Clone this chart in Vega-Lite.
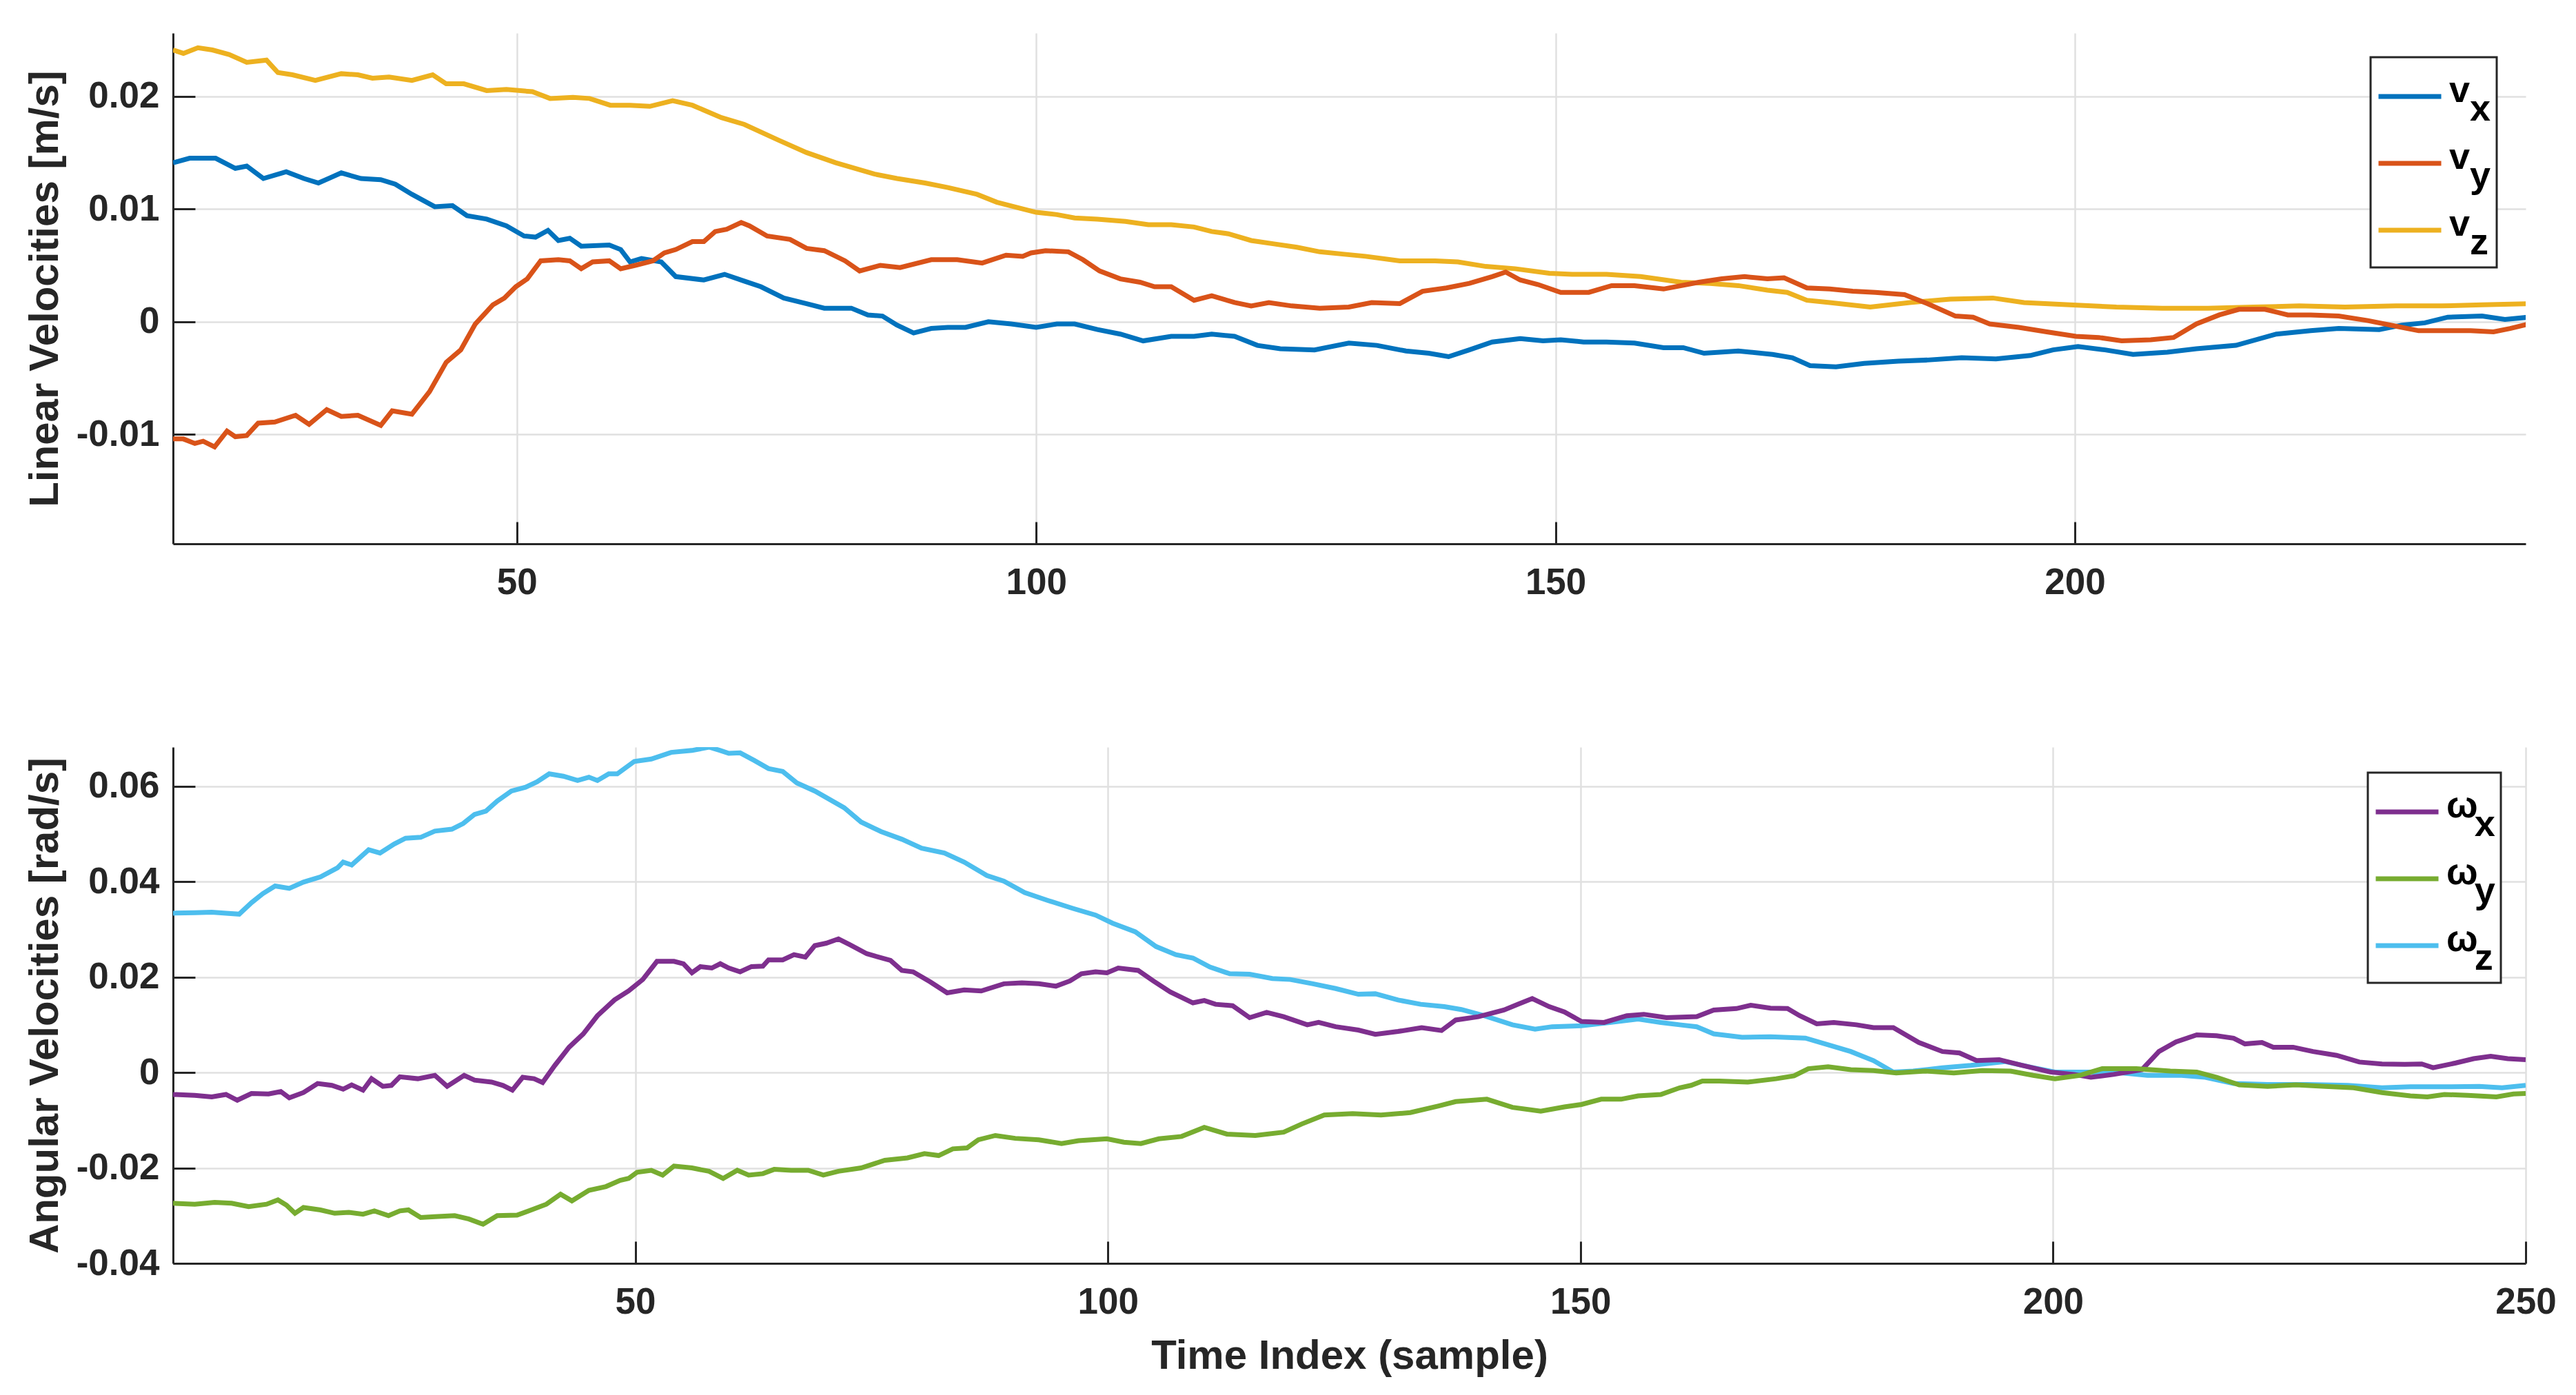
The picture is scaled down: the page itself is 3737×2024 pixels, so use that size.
{
  "$schema": "https://vega.github.io/schema/vega-lite/v6.json",
  "background": "white",
  "padding": {"left": 35, "top": 48, "right": 20, "bottom": 10},
  "spacing": 212,
  "config": {
    "font": "Liberation Sans",
    "view": {"stroke": null},
    "axis": {
      "labelFont": "Liberation Sans", "labelFontSize": 53, "labelFontWeight": "bold", "labelColor": "#262626",
      "titleFont": "Liberation Sans", "titleFontSize": 60, "titleFontWeight": "bold", "titleColor": "#262626",
      "domainColor": "#262626", "domainWidth": 3, "tickColor": "#262626", "tickWidth": 3, "tickSize": -32,
      "gridColor": "#e0e0e0", "gridWidth": 2.5, "labelFlush": false, "labelOverlap": false
    },
    "axisX": {"labelPadding": 62, "titlePadding": 22},
    "axisY": {"labelPadding": 52, "titlePadding": 14},
    "legend": {
      "orient": "none", "title": null, "symbolType": "stroke", "symbolSize": 8281, "symbolStrokeWidth": 7,
      "rowPadding": 2, "padding": 8, "labelOffset": 8, "labelFont": "Liberation Sans", "labelFontSize": 54,
      "labelFontWeight": "bold", "labelColor": "black", "strokeColor": "#262626", "fillColor": "white",
      "labelBaseline": "alphabetic"
    }
  },
  "datasets": {
    "lin": [
      {"t":16.9,"s":"vz","v":0.0241},{"t":17.9,"s":"vz","v":0.0238},{"t":19.3,"s":"vz","v":0.0243},{"t":20.7,"s":"vz","v":0.0241},{"t":22.3,"s":"vz","v":0.0237},{"t":24.0,"s":"vz","v":0.0230},{"t":25.9,"s":"vz","v":0.0232},{"t":27.0,"s":"vz","v":0.0221},{"t":28.4,"s":"vz","v":0.0219},{"t":30.6,"s":"vz","v":0.0214},{"t":33.1,"s":"vz","v":0.0220},{"t":34.7,"s":"vz","v":0.0219},{"t":36.1,"s":"vz","v":0.0216},{"t":37.7,"s":"vz","v":0.0217},{"t":39.9,"s":"vz","v":0.0214},{"t":41.9,"s":"vz","v":0.0219},{"t":43.2,"s":"vz","v":0.0211},{"t":44.9,"s":"vz","v":0.0211},{"t":47.1,"s":"vz","v":0.0205},{"t":49.0,"s":"vz","v":0.0206},{"t":51.5,"s":"vz","v":0.0204},{"t":53.2,"s":"vz","v":0.0198},{"t":55.4,"s":"vz","v":0.0199},{"t":57.0,"s":"vz","v":0.0198},{"t":59.0,"s":"vz","v":0.0192},{"t":60.9,"s":"vz","v":0.0192},{"t":62.8,"s":"vz","v":0.0191},{"t":65.0,"s":"vz","v":0.0196},{"t":66.9,"s":"vz","v":0.0192},{"t":69.7,"s":"vz","v":0.0181},{"t":71.9,"s":"vz","v":0.0175},{"t":75.2,"s":"vz","v":0.0161},{"t":77.9,"s":"vz","v":0.0150},{"t":80.7,"s":"vz","v":0.0141},{"t":84.4,"s":"vz","v":0.0131},{"t":86.6,"s":"vz","v":0.0127},{"t":89.3,"s":"vz","v":0.0123},{"t":91.5,"s":"vz","v":0.0119},{"t":94.3,"s":"vz","v":0.0113},{"t":96.2,"s":"vz","v":0.0106},{"t":98.7,"s":"vz","v":0.0100},{"t":100.0,"s":"vz","v":0.0097},{"t":102.0,"s":"vz","v":0.0095},{"t":103.7,"s":"vz","v":0.0092},{"t":105.9,"s":"vz","v":0.0091},{"t":108.6,"s":"vz","v":0.0089},{"t":110.8,"s":"vz","v":0.0086},{"t":113.0,"s":"vz","v":0.0086},{"t":115.2,"s":"vz","v":0.0084},{"t":116.9,"s":"vz","v":0.0080},{"t":118.5,"s":"vz","v":0.0078},{"t":120.7,"s":"vz","v":0.0072},{"t":122.9,"s":"vz","v":0.0069},{"t":125.1,"s":"vz","v":0.0066},{"t":127.3,"s":"vz","v":0.0062},{"t":129.5,"s":"vz","v":0.0060},{"t":131.7,"s":"vz","v":0.0058},{"t":135.0,"s":"vz","v":0.0054},{"t":138.4,"s":"vz","v":0.0054},{"t":140.6,"s":"vz","v":0.0053},{"t":143.3,"s":"vz","v":0.0049},{"t":146.1,"s":"vz","v":0.0047},{"t":149.4,"s":"vz","v":0.0043},{"t":151.6,"s":"vz","v":0.0042},{"t":154.9,"s":"vz","v":0.0042},{"t":158.2,"s":"vz","v":0.0040},{"t":162.1,"s":"vz","v":0.0035},{"t":164.9,"s":"vz","v":0.0034},{"t":167.6,"s":"vz","v":0.0032},{"t":170.4,"s":"vz","v":0.0028},{"t":172.3,"s":"vz","v":0.0026},{"t":174.2,"s":"vz","v":0.0019},{"t":176.4,"s":"vz","v":0.0017},{"t":180.3,"s":"vz","v":0.0013},{"t":184.1,"s":"vz","v":0.0017},{"t":188.0,"s":"vz","v":0.0020},{"t":192.1,"s":"vz","v":0.0021},{"t":195.1,"s":"vz","v":0.0017},{"t":199.5,"s":"vz","v":0.0015},{"t":204.0,"s":"vz","v":0.0013},{"t":208.4,"s":"vz","v":0.0012},{"t":212.8,"s":"vz","v":0.0012},{"t":217.2,"s":"vz","v":0.0013},{"t":221.6,"s":"vz","v":0.0014},{"t":226.0,"s":"vz","v":0.0013},{"t":230.9,"s":"vz","v":0.0014},{"t":235.3,"s":"vz","v":0.0014},{"t":239.2,"s":"vz","v":0.0015},{"t":243.7,"s":"vz","v":0.0016},
      {"t":16.9,"s":"vx","v":0.0141},{"t":18.5,"s":"vx","v":0.0145},{"t":21.0,"s":"vx","v":0.0145},{"t":22.9,"s":"vx","v":0.0136},{"t":24.0,"s":"vx","v":0.0138},{"t":25.6,"s":"vx","v":0.0127},{"t":27.8,"s":"vx","v":0.0133},{"t":29.5,"s":"vx","v":0.0127},{"t":30.9,"s":"vx","v":0.0123},{"t":33.1,"s":"vx","v":0.0132},{"t":35.0,"s":"vx","v":0.0127},{"t":36.9,"s":"vx","v":0.0126},{"t":38.3,"s":"vx","v":0.0122},{"t":39.9,"s":"vx","v":0.0113},{"t":42.1,"s":"vx","v":0.0102},{"t":43.8,"s":"vx","v":0.0103},{"t":45.2,"s":"vx","v":0.0094},{"t":47.1,"s":"vx","v":0.0091},{"t":49.0,"s":"vx","v":0.0085},{"t":50.7,"s":"vx","v":0.0076},{"t":51.8,"s":"vx","v":0.0075},{"t":53.0,"s":"vx","v":0.0081},{"t":54.0,"s":"vx","v":0.0072},{"t":55.1,"s":"vx","v":0.0074},{"t":56.2,"s":"vx","v":0.0067},{"t":58.9,"s":"vx","v":0.0068},{"t":60.0,"s":"vx","v":0.0064},{"t":60.9,"s":"vx","v":0.0053},{"t":62.0,"s":"vx","v":0.0056},{"t":63.9,"s":"vx","v":0.0053},{"t":65.3,"s":"vx","v":0.0040},{"t":68.0,"s":"vx","v":0.0037},{"t":70.0,"s":"vx","v":0.0042},{"t":71.9,"s":"vx","v":0.0036},{"t":73.5,"s":"vx","v":0.0031},{"t":75.7,"s":"vx","v":0.0021},{"t":77.9,"s":"vx","v":0.0016},{"t":79.6,"s":"vx","v":0.0012},{"t":82.2,"s":"vx","v":0.0012},{"t":83.8,"s":"vx","v":0.0006},{"t":85.2,"s":"vx","v":0.0005},{"t":86.6,"s":"vx","v":-0.0003},{"t":88.2,"s":"vx","v":-0.0010},{"t":89.9,"s":"vx","v":-0.0006},{"t":91.5,"s":"vx","v":-0.0005},{"t":93.2,"s":"vx","v":-0.0005},{"t":95.4,"s":"vx","v":0.0000},{"t":97.6,"s":"vx","v":-0.0002},{"t":100.0,"s":"vx","v":-0.0005},{"t":102.0,"s":"vx","v":-0.0002},{"t":103.7,"s":"vx","v":-0.0002},{"t":105.9,"s":"vx","v":-0.0007},{"t":108.1,"s":"vx","v":-0.0011},{"t":110.3,"s":"vx","v":-0.0017},{"t":113.0,"s":"vx","v":-0.0013},{"t":115.2,"s":"vx","v":-0.0013},{"t":116.9,"s":"vx","v":-0.0011},{"t":119.1,"s":"vx","v":-0.0013},{"t":121.3,"s":"vx","v":-0.0021},{"t":123.5,"s":"vx","v":-0.0024},{"t":126.8,"s":"vx","v":-0.0025},{"t":130.1,"s":"vx","v":-0.0019},{"t":132.8,"s":"vx","v":-0.0021},{"t":135.6,"s":"vx","v":-0.0026},{"t":137.8,"s":"vx","v":-0.0028},{"t":139.7,"s":"vx","v":-0.0031},{"t":141.7,"s":"vx","v":-0.0025},{"t":143.9,"s":"vx","v":-0.0018},{"t":146.6,"s":"vx","v":-0.0015},{"t":148.8,"s":"vx","v":-0.0017},{"t":150.5,"s":"vx","v":-0.0016},{"t":152.7,"s":"vx","v":-0.0018},{"t":154.9,"s":"vx","v":-0.0018},{"t":157.6,"s":"vx","v":-0.0019},{"t":160.4,"s":"vx","v":-0.0023},{"t":162.3,"s":"vx","v":-0.0023},{"t":164.3,"s":"vx","v":-0.0028},{"t":167.6,"s":"vx","v":-0.0026},{"t":170.9,"s":"vx","v":-0.0029},{"t":172.8,"s":"vx","v":-0.0032},{"t":174.5,"s":"vx","v":-0.0039},{"t":177.0,"s":"vx","v":-0.0040},{"t":179.7,"s":"vx","v":-0.0037},{"t":183.0,"s":"vx","v":-0.0035},{"t":185.8,"s":"vx","v":-0.0034},{"t":189.1,"s":"vx","v":-0.0032},{"t":192.4,"s":"vx","v":-0.0033},{"t":195.7,"s":"vx","v":-0.0030},{"t":197.9,"s":"vx","v":-0.0025},{"t":200.3,"s":"vx","v":-0.0022},{"t":202.9,"s":"vx","v":-0.0025},{"t":205.6,"s":"vx","v":-0.0029},{"t":208.9,"s":"vx","v":-0.0027},{"t":211.7,"s":"vx","v":-0.0024},{"t":215.5,"s":"vx","v":-0.0021},{"t":219.4,"s":"vx","v":-0.0011},{"t":222.7,"s":"vx","v":-0.0008},{"t":225.4,"s":"vx","v":-0.0006},{"t":229.3,"s":"vx","v":-0.0007},{"t":231.5,"s":"vx","v":-0.0003},{"t":233.7,"s":"vx","v":-0.0001},{"t":235.9,"s":"vx","v":0.0004},{"t":239.2,"s":"vx","v":0.0005},{"t":241.4,"s":"vx","v":0.0002},{"t":243.7,"s":"vx","v":0.0004},
      {"t":16.9,"s":"vy","v":-0.0104},{"t":17.9,"s":"vy","v":-0.0104},{"t":19.0,"s":"vy","v":-0.0108},{"t":19.8,"s":"vy","v":-0.0106},{"t":20.9,"s":"vy","v":-0.0111},{"t":22.1,"s":"vy","v":-0.0097},{"t":22.9,"s":"vy","v":-0.0102},{"t":24.0,"s":"vy","v":-0.0101},{"t":25.1,"s":"vy","v":-0.0090},{"t":26.7,"s":"vy","v":-0.0089},{"t":28.7,"s":"vy","v":-0.0083},{"t":30.0,"s":"vy","v":-0.0091},{"t":31.7,"s":"vy","v":-0.0078},{"t":33.1,"s":"vy","v":-0.0084},{"t":34.7,"s":"vy","v":-0.0083},{"t":36.9,"s":"vy","v":-0.0092},{"t":38.0,"s":"vy","v":-0.0079},{"t":39.9,"s":"vy","v":-0.0082},{"t":41.6,"s":"vy","v":-0.0062},{"t":43.2,"s":"vy","v":-0.0036},{"t":44.6,"s":"vy","v":-0.0025},{"t":46.0,"s":"vy","v":-0.0002},{"t":47.7,"s":"vy","v":0.0015},{"t":48.8,"s":"vy","v":0.0021},{"t":49.9,"s":"vy","v":0.0031},{"t":51.0,"s":"vy","v":0.0038},{"t":52.3,"s":"vy","v":0.0054},{"t":54.0,"s":"vy","v":0.0055},{"t":55.1,"s":"vy","v":0.0054},{"t":56.2,"s":"vy","v":0.0047},{"t":57.3,"s":"vy","v":0.0053},{"t":58.9,"s":"vy","v":0.0054},{"t":60.0,"s":"vy","v":0.0047},{"t":61.4,"s":"vy","v":0.0050},{"t":63.1,"s":"vy","v":0.0054},{"t":64.2,"s":"vy","v":0.0061},{"t":65.3,"s":"vy","v":0.0064},{"t":66.9,"s":"vy","v":0.0071},{"t":68.0,"s":"vy","v":0.0071},{"t":69.1,"s":"vy","v":0.0080},{"t":70.2,"s":"vy","v":0.0082},{"t":71.6,"s":"vy","v":0.0088},{"t":72.4,"s":"vy","v":0.0085},{"t":74.1,"s":"vy","v":0.0076},{"t":76.3,"s":"vy","v":0.0073},{"t":77.9,"s":"vy","v":0.0065},{"t":79.6,"s":"vy","v":0.0063},{"t":81.6,"s":"vy","v":0.0054},{"t":83.0,"s":"vy","v":0.0045},{"t":85.0,"s":"vy","v":0.0050},{"t":86.9,"s":"vy","v":0.0048},{"t":89.9,"s":"vy","v":0.0055},{"t":92.4,"s":"vy","v":0.0055},{"t":94.8,"s":"vy","v":0.0052},{"t":97.1,"s":"vy","v":0.0059},{"t":98.7,"s":"vy","v":0.0058},{"t":99.5,"s":"vy","v":0.0061},{"t":100.9,"s":"vy","v":0.0063},{"t":103.1,"s":"vy","v":0.0062},{"t":104.5,"s":"vy","v":0.0055},{"t":106.1,"s":"vy","v":0.0045},{"t":108.1,"s":"vy","v":0.0038},{"t":110.0,"s":"vy","v":0.0035},{"t":111.4,"s":"vy","v":0.0031},{"t":113.0,"s":"vy","v":0.0031},{"t":115.2,"s":"vy","v":0.0019},{"t":116.9,"s":"vy","v":0.0023},{"t":119.1,"s":"vy","v":0.0017},{"t":120.7,"s":"vy","v":0.0014},{"t":122.4,"s":"vy","v":0.0017},{"t":124.6,"s":"vy","v":0.0014},{"t":127.3,"s":"vy","v":0.0012},{"t":130.1,"s":"vy","v":0.0013},{"t":132.3,"s":"vy","v":0.0017},{"t":135.0,"s":"vy","v":0.0016},{"t":137.2,"s":"vy","v":0.0027},{"t":139.5,"s":"vy","v":0.0030},{"t":141.7,"s":"vy","v":0.0034},{"t":143.9,"s":"vy","v":0.0040},{"t":145.2,"s":"vy","v":0.0044},{"t":146.6,"s":"vy","v":0.0037},{"t":148.3,"s":"vy","v":0.0033},{"t":150.5,"s":"vy","v":0.0026},{"t":153.2,"s":"vy","v":0.0026},{"t":155.4,"s":"vy","v":0.0032},{"t":157.6,"s":"vy","v":0.0032},{"t":160.4,"s":"vy","v":0.0029},{"t":163.8,"s":"vy","v":0.0035},{"t":166.0,"s":"vy","v":0.0038},{"t":168.2,"s":"vy","v":0.0040},{"t":170.4,"s":"vy","v":0.0038},{"t":172.0,"s":"vy","v":0.0039},{"t":174.2,"s":"vy","v":0.0030},{"t":176.4,"s":"vy","v":0.0029},{"t":178.6,"s":"vy","v":0.0027},{"t":180.8,"s":"vy","v":0.0026},{"t":183.6,"s":"vy","v":0.0024},{"t":185.8,"s":"vy","v":0.0016},{"t":188.5,"s":"vy","v":0.0005},{"t":190.2,"s":"vy","v":0.0004},{"t":191.8,"s":"vy","v":-0.0002},{"t":194.6,"s":"vy","v":-0.0005},{"t":197.3,"s":"vy","v":-0.0009},{"t":200.1,"s":"vy","v":-0.0013},{"t":202.3,"s":"vy","v":-0.0014},{"t":204.5,"s":"vy","v":-0.0017},{"t":207.3,"s":"vy","v":-0.0016},{"t":209.5,"s":"vy","v":-0.0014},{"t":211.7,"s":"vy","v":-0.0002},{"t":213.9,"s":"vy","v":0.0006},{"t":215.8,"s":"vy","v":0.0011},{"t":218.3,"s":"vy","v":0.0011},{"t":220.5,"s":"vy","v":0.0006},{"t":222.7,"s":"vy","v":0.0006},{"t":225.4,"s":"vy","v":0.0005},{"t":228.2,"s":"vy","v":0.0001},{"t":230.9,"s":"vy","v":-0.0004},{"t":233.1,"s":"vy","v":-0.0008},{"t":235.3,"s":"vy","v":-0.0008},{"t":238.1,"s":"vy","v":-0.0008},{"t":240.3,"s":"vy","v":-0.0009},{"t":241.9,"s":"vy","v":-0.0006},{"t":243.7,"s":"vy","v":-0.0002}
    ],
    "ang": [
      {"t":1.1,"s":"wz","v":0.0334},{"t":3.4,"s":"wz","v":0.0335},{"t":5.2,"s":"wz","v":0.0336},{"t":6.7,"s":"wz","v":0.0334},{"t":8.1,"s":"wz","v":0.0332},{"t":9.4,"s":"wz","v":0.0356},{"t":10.6,"s":"wz","v":0.0375},{"t":11.9,"s":"wz","v":0.0391},{"t":13.4,"s":"wz","v":0.0386},{"t":14.9,"s":"wz","v":0.0399},{"t":16.7,"s":"wz","v":0.0410},{"t":18.5,"s":"wz","v":0.0429},{"t":19.1,"s":"wz","v":0.0441},{"t":20.0,"s":"wz","v":0.0435},{"t":21.8,"s":"wz","v":0.0467},{"t":23.0,"s":"wz","v":0.0460},{"t":24.5,"s":"wz","v":0.0479},{"t":25.7,"s":"wz","v":0.0491},{"t":27.3,"s":"wz","v":0.0493},{"t":28.8,"s":"wz","v":0.0506},{"t":30.6,"s":"wz","v":0.0510},{"t":31.8,"s":"wz","v":0.0522},{"t":33.0,"s":"wz","v":0.0541},{"t":34.2,"s":"wz","v":0.0548},{"t":35.4,"s":"wz","v":0.0569},{"t":36.9,"s":"wz","v":0.0590},{"t":38.4,"s":"wz","v":0.0598},{"t":39.6,"s":"wz","v":0.0609},{"t":40.9,"s":"wz","v":0.0626},{"t":42.4,"s":"wz","v":0.0621},{"t":43.9,"s":"wz","v":0.0612},{"t":45.1,"s":"wz","v":0.0619},{"t":46.0,"s":"wz","v":0.0612},{"t":47.2,"s":"wz","v":0.0626},{"t":48.1,"s":"wz","v":0.0626},{"t":49.9,"s":"wz","v":0.0652},{"t":51.7,"s":"wz","v":0.0657},{"t":53.8,"s":"wz","v":0.0671},{"t":56.0,"s":"wz","v":0.0675},{"t":57.8,"s":"wz","v":0.0682},{"t":59.0,"s":"wz","v":0.0675},{"t":59.9,"s":"wz","v":0.0669},{"t":61.1,"s":"wz","v":0.0670},{"t":62.6,"s":"wz","v":0.0654},{"t":64.1,"s":"wz","v":0.0637},{"t":65.6,"s":"wz","v":0.0631},{"t":67.1,"s":"wz","v":0.0607},{"t":69.0,"s":"wz","v":0.0590},{"t":72.1,"s":"wz","v":0.0555},{"t":73.9,"s":"wz","v":0.0525},{"t":76.0,"s":"wz","v":0.0505},{"t":78.2,"s":"wz","v":0.0489},{"t":80.3,"s":"wz","v":0.0470},{"t":82.7,"s":"wz","v":0.0460},{"t":84.8,"s":"wz","v":0.0441},{"t":87.2,"s":"wz","v":0.0413},{"t":89.0,"s":"wz","v":0.0401},{"t":91.2,"s":"wz","v":0.0377},{"t":93.6,"s":"wz","v":0.0361},{"t":96.3,"s":"wz","v":0.0344},{"t":98.7,"s":"wz","v":0.0330},{"t":100.5,"s":"wz","v":0.0313},{"t":102.9,"s":"wz","v":0.0295},{"t":105.1,"s":"wz","v":0.0264},{"t":107.2,"s":"wz","v":0.0247},{"t":109.0,"s":"wz","v":0.0240},{"t":110.8,"s":"wz","v":0.0221},{"t":112.9,"s":"wz","v":0.0207},{"t":115.0,"s":"wz","v":0.0206},{"t":117.4,"s":"wz","v":0.0197},{"t":119.3,"s":"wz","v":0.0195},{"t":121.7,"s":"wz","v":0.0186},{"t":124.1,"s":"wz","v":0.0176},{"t":126.5,"s":"wz","v":0.0164},{"t":128.3,"s":"wz","v":0.0165},{"t":130.7,"s":"wz","v":0.0152},{"t":133.1,"s":"wz","v":0.0143},{"t":135.6,"s":"wz","v":0.0138},{"t":137.4,"s":"wz","v":0.0132},{"t":139.8,"s":"wz","v":0.0119},{"t":142.8,"s":"wz","v":0.0100},{"t":145.2,"s":"wz","v":0.0091},{"t":147.0,"s":"wz","v":0.0096},{"t":150.1,"s":"wz","v":0.0098},{"t":153.1,"s":"wz","v":0.0105},{"t":156.1,"s":"wz","v":0.0112},{"t":158.5,"s":"wz","v":0.0105},{"t":160.5,"s":"wz","v":0.0100},{"t":162.3,"s":"wz","v":0.0096},{"t":164.1,"s":"wz","v":0.0081},{"t":167.1,"s":"wz","v":0.0074},{"t":170.1,"s":"wz","v":0.0075},{"t":173.8,"s":"wz","v":0.0072},{"t":176.2,"s":"wz","v":0.0058},{"t":178.6,"s":"wz","v":0.0044},{"t":181.0,"s":"wz","v":0.0025},{"t":183.1,"s":"wz","v":0.0001},{"t":185.2,"s":"wz","v":0.0003},{"t":188.3,"s":"wz","v":0.0010},{"t":191.3,"s":"wz","v":0.0015},{"t":194.9,"s":"wz","v":0.0023},{"t":197.9,"s":"wz","v":0.0010},{"t":200.2,"s":"wz","v":0.0001},{"t":202.8,"s":"wz","v":0.0001},{"t":206.4,"s":"wz","v":0.0001},{"t":210.0,"s":"wz","v":-0.0006},{"t":213.6,"s":"wz","v":-0.0006},{"t":216.1,"s":"wz","v":-0.0010},{"t":219.1,"s":"wz","v":-0.0023},{"t":222.7,"s":"wz","v":-0.0025},{"t":226.9,"s":"wz","v":-0.0025},{"t":231.2,"s":"wz","v":-0.0027},{"t":234.8,"s":"wz","v":-0.0032},{"t":237.8,"s":"wz","v":-0.0030},{"t":241.4,"s":"wz","v":-0.0030},{"t":245.1,"s":"wz","v":-0.0029},{"t":247.5,"s":"wz","v":-0.0032},{"t":250.0,"s":"wz","v":-0.0027},
      {"t":1.1,"s":"wx","v":-0.0046},{"t":3.4,"s":"wx","v":-0.0048},{"t":5.2,"s":"wx","v":-0.0051},{"t":6.7,"s":"wx","v":-0.0046},{"t":7.9,"s":"wx","v":-0.0058},{"t":9.4,"s":"wx","v":-0.0044},{"t":11.2,"s":"wx","v":-0.0045},{"t":12.5,"s":"wx","v":-0.0040},{"t":13.4,"s":"wx","v":-0.0053},{"t":14.9,"s":"wx","v":-0.0042},{"t":16.4,"s":"wx","v":-0.0023},{"t":17.9,"s":"wx","v":-0.0027},{"t":19.1,"s":"wx","v":-0.0035},{"t":20.0,"s":"wx","v":-0.0026},{"t":21.2,"s":"wx","v":-0.0037},{"t":22.1,"s":"wx","v":-0.0013},{"t":23.3,"s":"wx","v":-0.0029},{"t":24.2,"s":"wx","v":-0.0027},{"t":25.1,"s":"wx","v":-0.0009},{"t":27.0,"s":"wx","v":-0.0013},{"t":28.8,"s":"wx","v":-0.0006},{"t":30.1,"s":"wx","v":-0.0029},{"t":31.9,"s":"wx","v":-0.0006},{"t":33.0,"s":"wx","v":-0.0016},{"t":34.8,"s":"wx","v":-0.0020},{"t":36.0,"s":"wx","v":-0.0027},{"t":37.0,"s":"wx","v":-0.0037},{"t":38.1,"s":"wx","v":-0.0010},{"t":39.3,"s":"wx","v":-0.0013},{"t":40.2,"s":"wx","v":-0.0021},{"t":41.5,"s":"wx","v":0.0015},{"t":43.0,"s":"wx","v":0.0053},{"t":44.5,"s":"wx","v":0.0081},{"t":46.0,"s":"wx","v":0.0119},{"t":47.8,"s":"wx","v":0.0152},{"t":49.3,"s":"wx","v":0.0171},{"t":50.8,"s":"wx","v":0.0195},{"t":52.3,"s":"wx","v":0.0233},{"t":54.1,"s":"wx","v":0.0233},{"t":55.1,"s":"wx","v":0.0228},{"t":56.0,"s":"wx","v":0.0209},{"t":56.9,"s":"wx","v":0.0222},{"t":58.1,"s":"wx","v":0.0219},{"t":59.0,"s":"wx","v":0.0228},{"t":59.9,"s":"wx","v":0.0219},{"t":61.1,"s":"wx","v":0.0211},{"t":62.3,"s":"wx","v":0.0222},{"t":63.5,"s":"wx","v":0.0223},{"t":64.1,"s":"wx","v":0.0236},{"t":65.6,"s":"wx","v":0.0236},{"t":66.8,"s":"wx","v":0.0247},{"t":68.0,"s":"wx","v":0.0242},{"t":69.0,"s":"wx","v":0.0266},{"t":70.2,"s":"wx","v":0.0271},{"t":71.5,"s":"wx","v":0.0280},{"t":72.7,"s":"wx","v":0.0268},{"t":74.5,"s":"wx","v":0.0249},{"t":77.0,"s":"wx","v":0.0235},{"t":78.2,"s":"wx","v":0.0214},{"t":79.4,"s":"wx","v":0.0211},{"t":81.2,"s":"wx","v":0.0190},{"t":83.0,"s":"wx","v":0.0167},{"t":84.8,"s":"wx","v":0.0173},{"t":86.6,"s":"wx","v":0.0171},{"t":89.0,"s":"wx","v":0.0186},{"t":90.9,"s":"wx","v":0.0188},{"t":92.7,"s":"wx","v":0.0186},{"t":94.5,"s":"wx","v":0.0181},{"t":96.0,"s":"wx","v":0.0192},{"t":97.2,"s":"wx","v":0.0207},{"t":98.7,"s":"wx","v":0.0211},{"t":99.9,"s":"wx","v":0.0209},{"t":101.1,"s":"wx","v":0.0219},{"t":103.2,"s":"wx","v":0.0214},{"t":104.8,"s":"wx","v":0.0192},{"t":106.6,"s":"wx","v":0.0169},{"t":109.0,"s":"wx","v":0.0146},{"t":110.2,"s":"wx","v":0.0151},{"t":111.4,"s":"wx","v":0.0143},{"t":113.2,"s":"wx","v":0.0140},{"t":115.0,"s":"wx","v":0.0115},{"t":116.8,"s":"wx","v":0.0126},{"t":118.6,"s":"wx","v":0.0117},{"t":121.1,"s":"wx","v":0.0100},{"t":122.3,"s":"wx","v":0.0105},{"t":124.1,"s":"wx","v":0.0096},{"t":126.5,"s":"wx","v":0.0089},{"t":128.3,"s":"wx","v":0.0080},{"t":130.7,"s":"wx","v":0.0086},{"t":133.2,"s":"wx","v":0.0094},{"t":135.3,"s":"wx","v":0.0088},{"t":136.8,"s":"wx","v":0.0110},{"t":139.2,"s":"wx","v":0.0117},{"t":141.9,"s":"wx","v":0.0131},{"t":143.4,"s":"wx","v":0.0143},{"t":144.9,"s":"wx","v":0.0155},{"t":146.7,"s":"wx","v":0.0138},{"t":148.3,"s":"wx","v":0.0127},{"t":150.1,"s":"wx","v":0.0107},{"t":152.5,"s":"wx","v":0.0105},{"t":154.9,"s":"wx","v":0.0119},{"t":156.7,"s":"wx","v":0.0122},{"t":159.1,"s":"wx","v":0.0115},{"t":162.3,"s":"wx","v":0.0117},{"t":164.1,"s":"wx","v":0.0131},{"t":166.5,"s":"wx","v":0.0134},{"t":168.0,"s":"wx","v":0.0141},{"t":170.1,"s":"wx","v":0.0135},{"t":171.9,"s":"wx","v":0.0134},{"t":173.2,"s":"wx","v":0.0119},{"t":175.0,"s":"wx","v":0.0102},{"t":176.8,"s":"wx","v":0.0105},{"t":179.2,"s":"wx","v":0.0100},{"t":181.0,"s":"wx","v":0.0094},{"t":183.1,"s":"wx","v":0.0094},{"t":185.8,"s":"wx","v":0.0063},{"t":188.3,"s":"wx","v":0.0044},{"t":190.1,"s":"wx","v":0.0041},{"t":191.9,"s":"wx","v":0.0025},{"t":194.3,"s":"wx","v":0.0027},{"t":196.7,"s":"wx","v":0.0015},{"t":199.7,"s":"wx","v":0.0001},{"t":202.2,"s":"wx","v":-0.0004},{"t":204.0,"s":"wx","v":-0.0010},{"t":206.4,"s":"wx","v":-0.0004},{"t":209.4,"s":"wx","v":0.0006},{"t":211.2,"s":"wx","v":0.0044},{"t":213.0,"s":"wx","v":0.0064},{"t":215.2,"s":"wx","v":0.0079},{"t":217.3,"s":"wx","v":0.0077},{"t":219.1,"s":"wx","v":0.0072},{"t":220.3,"s":"wx","v":0.0060},{"t":222.1,"s":"wx","v":0.0063},{"t":223.3,"s":"wx","v":0.0053},{"t":225.4,"s":"wx","v":0.0053},{"t":227.5,"s":"wx","v":0.0044},{"t":230.0,"s":"wx","v":0.0036},{"t":232.4,"s":"wx","v":0.0022},{"t":234.8,"s":"wx","v":0.0018},{"t":237.2,"s":"wx","v":0.0017},{"t":239.0,"s":"wx","v":0.0018},{"t":240.2,"s":"wx","v":0.0010},{"t":242.6,"s":"wx","v":0.0020},{"t":244.5,"s":"wx","v":0.0029},{"t":246.3,"s":"wx","v":0.0034},{"t":248.1,"s":"wx","v":0.0029},{"t":250.0,"s":"wx","v":0.0027},
      {"t":1.1,"s":"wy","v":-0.0274},{"t":3.4,"s":"wy","v":-0.0276},{"t":5.5,"s":"wy","v":-0.0272},{"t":7.3,"s":"wy","v":-0.0274},{"t":9.1,"s":"wy","v":-0.0281},{"t":11.0,"s":"wy","v":-0.0276},{"t":12.2,"s":"wy","v":-0.0267},{"t":13.1,"s":"wy","v":-0.0278},{"t":14.0,"s":"wy","v":-0.0295},{"t":14.9,"s":"wy","v":-0.0283},{"t":16.7,"s":"wy","v":-0.0288},{"t":18.2,"s":"wy","v":-0.0295},{"t":19.7,"s":"wy","v":-0.0293},{"t":21.2,"s":"wy","v":-0.0297},{"t":22.4,"s":"wy","v":-0.0290},{"t":23.9,"s":"wy","v":-0.0300},{"t":25.1,"s":"wy","v":-0.0290},{"t":26.0,"s":"wy","v":-0.0288},{"t":27.3,"s":"wy","v":-0.0304},{"t":28.8,"s":"wy","v":-0.0302},{"t":30.9,"s":"wy","v":-0.0300},{"t":32.4,"s":"wy","v":-0.0307},{"t":33.9,"s":"wy","v":-0.0318},{"t":35.4,"s":"wy","v":-0.0300},{"t":37.5,"s":"wy","v":-0.0299},{"t":39.0,"s":"wy","v":-0.0288},{"t":40.6,"s":"wy","v":-0.0276},{"t":42.1,"s":"wy","v":-0.0255},{"t":43.3,"s":"wy","v":-0.0269},{"t":45.1,"s":"wy","v":-0.0247},{"t":46.9,"s":"wy","v":-0.0239},{"t":48.4,"s":"wy","v":-0.0226},{"t":49.3,"s":"wy","v":-0.0222},{"t":50.2,"s":"wy","v":-0.0209},{"t":51.7,"s":"wy","v":-0.0205},{"t":52.9,"s":"wy","v":-0.0215},{"t":54.1,"s":"wy","v":-0.0196},{"t":56.0,"s":"wy","v":-0.0200},{"t":57.8,"s":"wy","v":-0.0207},{"t":59.3,"s":"wy","v":-0.0222},{"t":60.8,"s":"wy","v":-0.0205},{"t":62.0,"s":"wy","v":-0.0215},{"t":63.5,"s":"wy","v":-0.0212},{"t":64.7,"s":"wy","v":-0.0203},{"t":66.5,"s":"wy","v":-0.0205},{"t":68.3,"s":"wy","v":-0.0205},{"t":69.9,"s":"wy","v":-0.0215},{"t":71.5,"s":"wy","v":-0.0207},{"t":73.9,"s":"wy","v":-0.0200},{"t":76.4,"s":"wy","v":-0.0184},{"t":78.8,"s":"wy","v":-0.0179},{"t":80.6,"s":"wy","v":-0.0170},{"t":82.1,"s":"wy","v":-0.0174},{"t":83.6,"s":"wy","v":-0.0160},{"t":85.1,"s":"wy","v":-0.0158},{"t":86.3,"s":"wy","v":-0.0141},{"t":88.1,"s":"wy","v":-0.0132},{"t":90.2,"s":"wy","v":-0.0138},{"t":92.7,"s":"wy","v":-0.0141},{"t":95.1,"s":"wy","v":-0.0149},{"t":96.9,"s":"wy","v":-0.0143},{"t":99.9,"s":"wy","v":-0.0139},{"t":101.7,"s":"wy","v":-0.0146},{"t":103.5,"s":"wy","v":-0.0149},{"t":105.4,"s":"wy","v":-0.0139},{"t":107.8,"s":"wy","v":-0.0134},{"t":110.2,"s":"wy","v":-0.0115},{"t":112.6,"s":"wy","v":-0.0129},{"t":115.6,"s":"wy","v":-0.0132},{"t":118.6,"s":"wy","v":-0.0125},{"t":120.5,"s":"wy","v":-0.0108},{"t":122.9,"s":"wy","v":-0.0089},{"t":125.9,"s":"wy","v":-0.0086},{"t":128.9,"s":"wy","v":-0.0089},{"t":132.0,"s":"wy","v":-0.0084},{"t":135.0,"s":"wy","v":-0.0070},{"t":136.8,"s":"wy","v":-0.0061},{"t":140.1,"s":"wy","v":-0.0056},{"t":142.8,"s":"wy","v":-0.0073},{"t":145.8,"s":"wy","v":-0.0081},{"t":148.3,"s":"wy","v":-0.0072},{"t":150.1,"s":"wy","v":-0.0067},{"t":152.2,"s":"wy","v":-0.0056},{"t":154.3,"s":"wy","v":-0.0056},{"t":156.1,"s":"wy","v":-0.0049},{"t":158.5,"s":"wy","v":-0.0046},{"t":160.5,"s":"wy","v":-0.0032},{"t":161.7,"s":"wy","v":-0.0027},{"t":162.9,"s":"wy","v":-0.0018},{"t":164.7,"s":"wy","v":-0.0018},{"t":167.7,"s":"wy","v":-0.0020},{"t":170.7,"s":"wy","v":-0.0013},{"t":172.6,"s":"wy","v":-0.0007},{"t":174.1,"s":"wy","v":0.0008},{"t":176.2,"s":"wy","v":0.0012},{"t":178.6,"s":"wy","v":0.0006},{"t":181.0,"s":"wy","v":0.0004},{"t":183.4,"s":"wy","v":-0.0001},{"t":186.5,"s":"wy","v":0.0003},{"t":189.5,"s":"wy","v":-0.0001},{"t":192.5,"s":"wy","v":0.0004},{"t":195.5,"s":"wy","v":0.0003},{"t":197.9,"s":"wy","v":-0.0006},{"t":200.2,"s":"wy","v":-0.0013},{"t":202.8,"s":"wy","v":-0.0006},{"t":205.2,"s":"wy","v":0.0008},{"t":208.8,"s":"wy","v":0.0008},{"t":212.4,"s":"wy","v":0.0003},{"t":215.2,"s":"wy","v":0.0001},{"t":217.3,"s":"wy","v":-0.0010},{"t":219.7,"s":"wy","v":-0.0026},{"t":222.7,"s":"wy","v":-0.0029},{"t":225.7,"s":"wy","v":-0.0026},{"t":228.8,"s":"wy","v":-0.0029},{"t":231.8,"s":"wy","v":-0.0032},{"t":234.8,"s":"wy","v":-0.0042},{"t":237.8,"s":"wy","v":-0.0049},{"t":239.6,"s":"wy","v":-0.0051},{"t":241.4,"s":"wy","v":-0.0046},{"t":243.9,"s":"wy","v":-0.0048},{"t":246.9,"s":"wy","v":-0.0051},{"t":248.7,"s":"wy","v":-0.0045},{"t":250.0,"s":"wy","v":-0.0044}
    ]
  },
  "vconcat": [
    {
      "width": 3413, "height": 741,
      "data": {"name": "lin"},
      "mark": {"type": "line", "strokeWidth": 7, "clip": true},
      "encoding": {
        "x": {"field": "t", "type": "quantitative", "scale": {"domain": [16.9, 243.4], "nice": false, "zero": false},
              "axis": {"values": [50, 100, 150, 200], "title": null, "grid": true}},
        "y": {"field": "v", "type": "quantitative", "scale": {"domain": [-0.0197, 0.0256], "nice": false, "zero": false},
              "axis": {"values": [-0.01, 0, 0.01, 0.02], "labelExpr": "'' + datum.value", "title": "Linear Velocities [m/s]", "grid": true}},
        "color": {"field": "s", "type": "nominal",
                  "scale": {"domain": ["vx", "vy", "vz"], "range": ["#0072BD", "#D95319", "#EDB120"]},
                  "legend": {"legendX": 3188, "legendY": 35, "labelExpr": "['v', '\u200b\u00a0\u00a0' + substring(datum.label, 1)]",
                             "encode": {"labels": {"update": {"lineHeight": {"value": 27}, "dy": {"value": 8}}}, "legend": {"update": {"strokeWidth": {"value": 3}}}}}}
      }
    },
    {
      "width": 3413, "height": 749,
      "data": {"name": "ang"},
      "mark": {"type": "line", "strokeWidth": 7, "clip": true},
      "encoding": {
        "x": {"field": "t", "type": "quantitative", "scale": {"domain": [1.1, 250], "nice": false, "zero": false},
              "axis": {"values": [50, 100, 150, 200, 250], "title": "Time Index (sample)", "grid": true}},
        "y": {"field": "v", "type": "quantitative", "scale": {"domain": [-0.04, 0.0682], "nice": false, "zero": false},
              "axis": {"values": [-0.04, -0.02, 0, 0.02, 0.04, 0.06], "labelExpr": "'' + datum.value", "title": "Angular Velocities [rad/s]", "grid": true}},
        "color": {"field": "s", "type": "nominal",
                  "scale": {"domain": ["wx", "wy", "wz"], "range": ["#7E2F8E", "#77AC30", "#4DBEEE"]},
                  "legend": {"legendX": 3184, "legendY": 37, "labelExpr": "['ω', '\u200b\u00a0\u00a0\u2009' + substring(datum.label, 1)]",
                             "encode": {"labels": {"update": {"lineHeight": {"value": 27}, "dy": {"value": 8}}}, "legend": {"update": {"strokeWidth": {"value": 3}}}}}}
      }
    }
  ],
  "resolve": {"scale": {"color": "independent"}}
}
